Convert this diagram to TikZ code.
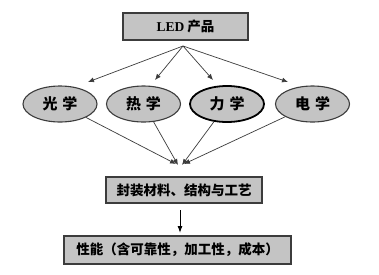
\documentclass[tikz,border=0pt]{standalone}
\usepackage{fontspec}
\usetikzlibrary{shapes.geometric, arrows.meta, positioning}
\newfontfamily\cjk{Noto Sans CJK SC}
\newfontfamily\latinserif{Liberation Serif}
\definecolor{boxgray}{HTML}{C4C4C4}
\definecolor{edgegray}{HTML}{3C3C3C}
\tikzset{
  block/.style  = {draw=edgegray, fill=boxgray, line width=1.4pt,
                   font=\cjk\bfseries\fontsize{13.5}{15}\selectfont, inner sep=0pt},
  field/.style  = {draw=edgegray, fill=boxgray, ellipse, line width=1.1pt,
                   minimum width=74pt, minimum height=36pt, inner sep=0pt,
                   font=\cjk\bfseries\fontsize{15}{17}\selectfont},
  flow/.style   = {-{Latex[length=6pt,width=5pt]}, line width=0.7pt, draw=edgegray},
  down/.style   = {-{Latex[length=7pt,width=5pt]}, line width=1pt, draw=black}
}
\begin{document}
\begin{tikzpicture}[x=1pt, y=-1pt]
\useasboundingbox[fill=white] (0,0) rectangle (379,274);
% Product box
\node[block, minimum width=125pt, minimum height=27pt] (led) at (185.5,26.5)
  {{\latinserif\bfseries LED} 产品};
% Disciplines
\node[field] (optics)  at (60,104)  {光\,\,学};
\node[field] (thermal) at (143.5,104) {热\,\,学};
\node[field, line width=1.8pt, draw=black] (mech) at (227,104) {力\,\,学};
\node[field] (elec)    at (312.5,104) {电\,\,学};
% Arrows from product
\coordinate (src) at (183,46);
\coordinate (t1) at (88,82);
\coordinate (t2) at (155,80);
\coordinate (t3) at (213,80);
\coordinate (t4) at (288,82);
\foreach \t in {t1,t2,t3,t4}
  \draw[flow] (src) -- (\t);
% Arrows into packaging
\coordinate (s1) at (176,164);
\coordinate (s2) at (178,165);
\coordinate (s3) at (182,165);
\coordinate (s4) at (184,164);
\foreach \n/\s in {optics/s1, thermal/s2, mech/s3, elec/s4}
  \draw[flow] (\n) -- (\s);
% Packaging and performance
\node[block, minimum width=156pt, minimum height=26pt] (pack) at (184,190)
  {封装材料、结构与工艺};
\node[block, minimum width=227pt, minimum height=28pt] (perf) at (177.5,250)
  {性能（含可靠性，加工性，成本）};
\coordinate (d1) at (180,210);
\coordinate (d2) at (180,233);
\draw[down] (d1) -- (d2);
\end{tikzpicture}
\end{document}
